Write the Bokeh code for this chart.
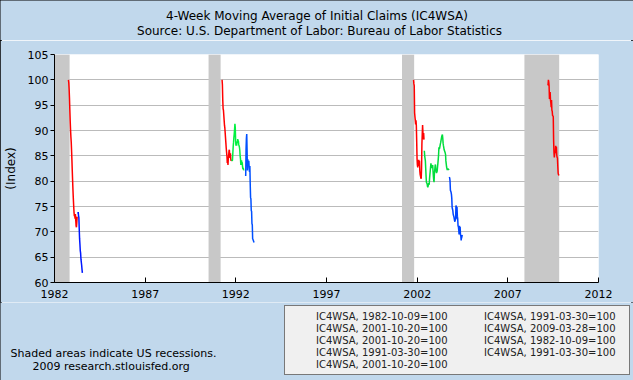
import pandas as pd
from bokeh.plotting import figure
from bokeh.layouts import column
from bokeh.models import (Range1d, FixedTicker, DatetimeTickFormatter, Label,
                          Legend, LegendItem)
from bokeh.embed import file_html
from bokeh.resources import INLINE

# ---------------- data (weekly, index = 100 at base date) ----------------
recession_starts = ["1981-07-01", "1990-07-01", "2001-03-01", "2007-12-01"]
recession_ends = ["1982-11-01", "1991-03-01", "2001-11-01", "2009-10-31"]

red_1982_start = "1982-10-09"
red_1982 = [100.0, 99.4, 98.1, 96.3, 94.0, 91.9, 90.2, 88.8, 87.7, 86.0, 84.1,
            82.0, 80.1, 78.2, 76.6, 75.2, 73.9, 73.1, 73.3, 72.6, 73.5, 72.3,
            71.2, 70.9, 71.8, 73.0]
blue_1982_start = "1983-04-16"
blue_1982 = [73.6, 73.9, 73.2, 72.8, 70.6, 68.7, 67.6, 66.3, 65.8, 64.6, 64.0,
             63.4, 62.6, 61.9]

red_1991_start = "1991-03-30"
red_1991 = [100.0, 99.0, 96.0, 94.3, 94.0, 93.0, 92.0, 91.0, 90.5, 89.5, 88.5,
            87.5, 86.5, 85.7, 85.0, 83.6, 84.2, 83.2, 84.5, 85.0, 86.0, 86.2,
            85.0, 84.6, 85.5, 84.4, 84.0, 84.2]
green_1991_start = "1991-10-12"
green_1991 = [84.3, 84.0, 84.2, 85.5, 86.8, 87.6, 88.6, 89.3, 90.2, 91.3, 90.6,
              88.0, 87.0, 87.3, 87.0, 87.8, 87.6, 88.3, 88.0, 87.9, 87.2, 87.0,
              86.7, 86.1, 85.0, 84.4, 83.2, 83.6, 84.1, 83.5, 83.7, 82.8, 82.4,
              82.6, 82.2, 82.3]
blue_1991_start = "1992-07-18"
blue_1991 = [81.0, 86.2, 88.4, 89.3, 86.0, 82.1, 84.3, 83.5, 83.2, 84.0, 82.6,
             81.8, 83.0, 79.5, 76.8, 76.5, 74.2, 74.0, 71.6, 71.4, 68.6, 68.5,
             68.3, 68.1, 67.9]

red_2001_start = "2001-10-20"
red_2001 = [100.0, 99.2, 98.8, 93.5, 92.7, 92.0, 91.2, 92.0, 91.0, 88.0, 84.5,
            83.2, 82.7, 84.0, 83.8, 84.2, 83.0, 84.0, 82.0, 81.3, 81.0, 80.6,
            80.5, 82.5, 87.3, 89.2, 91.1, 89.5, 88.3, 89.5, 88.2]
green_2001_start = "2002-05-25"
green_2001 = [86.0, 85.0, 84.5, 84.0, 82.5, 81.0, 79.8, 79.6, 79.5, 79.0, 78.8,
              79.1, 79.4, 79.6, 79.3, 80.5, 81.3, 82.0, 82.8, 83.5, 82.8, 83.2,
              82.6, 82.9, 83.2, 82.0, 81.0, 80.2, 79.8, 81.6, 82.2, 83.0, 83.3,
              82.5, 82.0, 81.6, 81.8, 82.0, 82.8, 83.5, 84.3, 85.2, 86.7, 86.4,
              86.5, 86.9, 87.3, 87.6, 88.0, 88.4, 88.8, 89.0, 89.2, 88.5, 87.5,
              87.0, 86.6, 86.2, 86.0, 85.8, 85.6, 85.3, 84.0, 83.4, 82.8, 82.5,
              82.2, 82.4, 82.5, 82.3, 82.3, 82.4]
blue_2001_start = "2003-10-11"
blue_2001 = [80.8, 80.6, 80.0, 78.2, 78.0, 77.8, 77.4, 76.6, 74.8, 74.5, 74.2,
             73.5, 73.2, 73.0, 72.6, 72.2, 72.0, 72.3, 72.5, 75.2, 75.0, 72.6,
             74.9, 73.1, 72.6, 71.2, 71.0, 70.4, 69.5, 71.2, 69.8, 71.0, 69.4,
             69.2, 68.3, 68.8, 69.0, 69.4]

red_2009_start = "2009-03-14"
red_2009 = [98.9, 99.0, 100.0, 99.6, 98.8, 96.2, 97.0, 97.6, 96.0, 95.5, 94.6,
            96.0, 94.0, 93.8, 92.9, 92.9, 92.7, 88.0, 85.7, 84.7, 85.3, 86.0,
            85.6, 87.0, 85.5, 86.8, 85.2, 84.7, 84.6, 83.0, 81.6, 81.3, 81.1]

x_tick_years = [1982, 1987, 1992, 1997, 2002, 2007, 2012]
y_ticks = [60, 65, 70, 75, 80, 85, 90, 95, 100, 105]

# (label, start, values, color) in legend order (row by row)
series = [
    ("IC4WSA, 1982-10-09=100", red_1982_start, red_1982, "#FF0000"),
    ("IC4WSA, 1991-03-30=100", red_1991_start, red_1991, "#FF0000"),
    ("IC4WSA, 2001-10-20=100", red_2001_start, red_2001, "#FF0000"),
    ("IC4WSA, 2009-03-28=100", red_2009_start, red_2009, "#FF0000"),
    ("IC4WSA, 2001-10-20=100", green_2001_start, green_2001, "#00DD3C"),
    ("IC4WSA, 1982-10-09=100", blue_1982_start, blue_1982, "#0018FF"),
    ("IC4WSA, 1991-03-30=100", green_1991_start, green_1991, "#00F040"),
    ("IC4WSA, 1991-03-30=100", blue_1991_start, blue_1991, "#0050FF"),
    ("IC4WSA, 2001-10-20=100", blue_2001_start, blue_2001, "#0044FF"),
]

title_1 = "4-Week Moving Average of Initial Claims (IC4WSA)"
title_2 = "Source: U.S. Department of Labor: Bureau of Labor Statistics"
footer_1 = "Shaded areas indicate US recessions."
footer_2 = "2009 research.stlouisfed.org"

# ---------------- layout constants ----------------
BG = "#C1D8EC"
FONT = "DejaVu Sans"
W = 633
TOP_H, MAIN_H, BOT_H = 40, 262, 78      # stacked strips (page y 0-40, 40-302, 302-380)


def strip(height):
    f = figure(width=W, height=height, x_range=Range1d(0, W), y_range=Range1d(0, height),
               output_backend="svg", toolbar_location=None, title=None,
               x_axis_location=None, y_axis_location=None, min_border=0,
               min_border_left=0, min_border_right=0, min_border_top=0,
               min_border_bottom=0, frame_align=False)
    f.background_fill_color = BG
    f.border_fill_color = BG
    f.outline_line_color = None
    f.grid.visible = False
    return f


def text(f, txt, x, y_page, y0, size, align="left"):
    f.add_layout(Label(x=x, y=(y0 + f.height) - y_page, x_units="screen", y_units="screen",
                       text=txt, text_align=align, text_baseline="middle",
                       text_font=FONT, text_font_size=size, text_color="black"))


# ---------------- header strip ----------------
p_top = strip(TOP_H)
text(p_top, title_1, 316.5, 15.5, 0, "12px", "center")
text(p_top, title_2, 319, 30.5, 0, "12px", "center")

# ---------------- main chart ----------------
FL, FR, FT, FB = 54, 598, 54, 282     # frame edges in page pixels
p = figure(width=W, height=MAIN_H, x_axis_type="datetime",
           x_range=Range1d(pd.Timestamp("1982-01-01"), pd.Timestamp("2012-01-01")),
           y_range=Range1d(60, 105),
           output_backend="svg", toolbar_location=None, title=None,
           min_border_left=FL, min_border_right=W - FR,
           min_border_top=FT - TOP_H, min_border_bottom=(TOP_H + MAIN_H) - FB,
           frame_align=False)
p.border_fill_color = BG
p.background_fill_color = "white"
p.outline_line_color = None

p.quad(left=pd.to_datetime(recession_starts), right=pd.to_datetime(recession_ends),
       bottom=60, top=105, fill_color="#C8C8C8", line_color=None)

for label, start, vals, color in series:
    dates = pd.date_range(start, periods=len(vals), freq="7D")
    p.line(dates, vals, line_color=color, line_width=1.5)

xa = p.xaxis[0]
xa.ticker = FixedTicker(ticks=[pd.Timestamp(f"{y}-01-01").value / 1e6 for y in x_tick_years])
xa.formatter = DatetimeTickFormatter(years="%Y", months="%Y", days="%Y")
xa.major_tick_in = 5
xa.major_tick_out = 0
xa.minor_tick_in = 0
xa.minor_tick_out = 0
xa.major_label_standoff = 7
ya = p.yaxis[0]
ya.ticker = FixedTicker(ticks=y_ticks)
ya.major_tick_in = 0
ya.major_tick_out = 4
ya.minor_tick_in = 0
ya.minor_tick_out = 0
ya.major_label_standoff = 2
ya.axis_label = "(Index)"
ya.axis_label_standoff = 7
ya.axis_label_text_font = FONT
ya.axis_label_text_font_size = "12px"
ya.axis_label_text_font_style = "normal"
ya.axis_label_text_color = "black"
for ax in (xa, ya):
    ax.axis_line_color = "black"
    ax.major_tick_line_color = "black"
    ax.major_label_text_font = FONT
    ax.major_label_text_font_size = "11px"
    ax.major_label_text_color = "black"
p.xgrid.grid_line_color = None
p.ygrid.grid_line_color = "#BBBBBB"
p.ygrid.ticker = FixedTicker(ticks=y_ticks)

# ---------------- bottom strip: legend + footer ----------------
p_bot = strip(BOT_H)
Y0_BOT = TOP_H + MAIN_H
items = []
for label, start, vals, color in series:
    key = p_bot.line(x=[], y=[], line_color=color, line_width=1.5)   # legend key only
    items.append(LegendItem(label=label, renderers=[key]))
LEG_TOP, LEG_H = 307, 68
legend = Legend(items=items, orientation="horizontal", ncols=2,
                location=(284, (Y0_BOT + BOT_H) - (LEG_TOP + LEG_H)),
                label_text_font=FONT, label_text_font_size="10px",
                label_text_color="#222222",
                glyph_width=10, glyph_height=12, label_height=12, label_width=141,
                label_standoff=17, spacing=0, padding=4, margin=0,
                background_fill_color="#F0F0F0", background_fill_alpha=1,
                border_line_color="black", border_line_width=1)
p_bot.add_layout(legend, "center")
text(p_bot, footer_1, 10, 353.3, Y0_BOT, "11px")
text(p_bot, footer_2, 32, 365.7, Y0_BOT, "11px")

page = column(p_top, p, p_bot, spacing=0,
              styles={"outline": "2px solid black", "outline-offset": "-2px"})

open("out.html", "w").write(file_html(page, INLINE))
